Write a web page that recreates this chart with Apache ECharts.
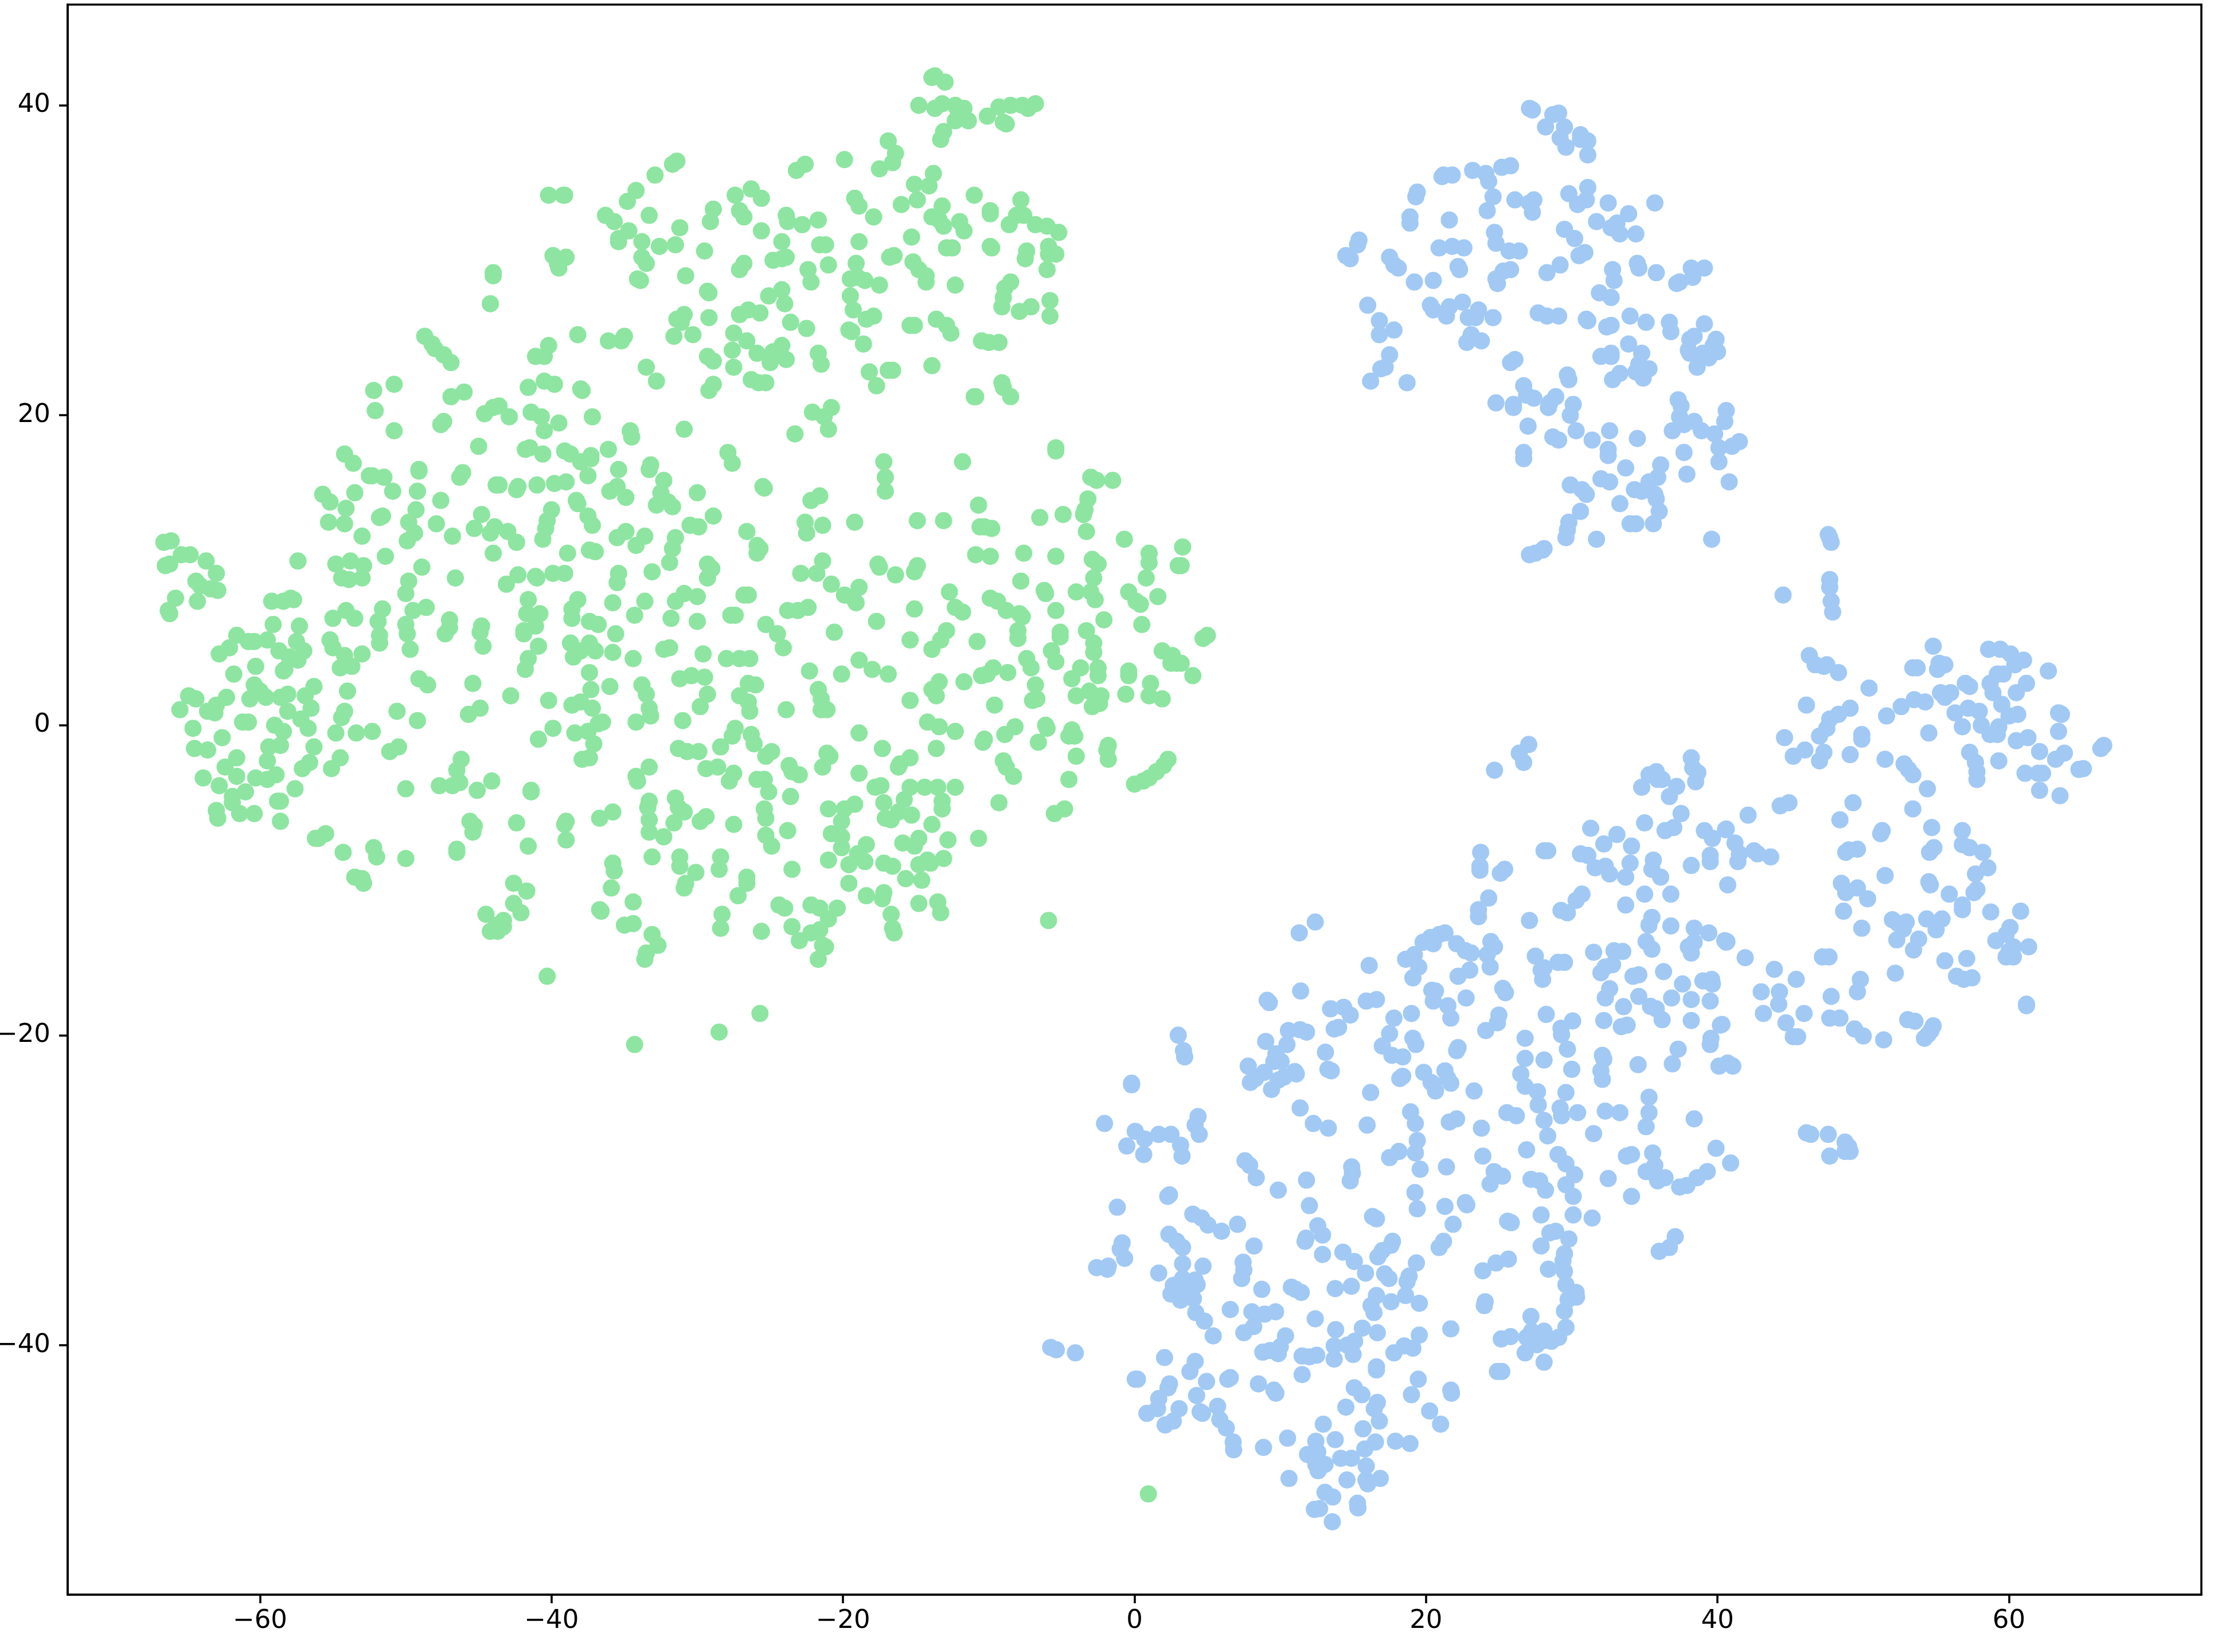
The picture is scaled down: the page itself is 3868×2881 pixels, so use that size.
<!DOCTYPE html>
<html>
<head>
<meta charset="utf-8">
<title>scatter</title>
<script src="https://cdn.jsdelivr.net/npm/echarts@6/dist/echarts.min.js"></script>
<style>
	html, body { margin: 0; padding: 0; background: #fff; }
	#chart { width: 3868px; height: 2881px; }
</style>
</head>
<body>
<div id="chart"></div>
<script>
	// tick labels
	var xTicks = [-60, -40, -20, 0, 20, 40, 60];
	var yTicks = [-40, -20, 0, 20, 40];

	// green cluster, left half, top part
	var greenTopLeft = [
		[-40.2,34.2],[-39.1,34.2],[-39.2,34.2],[-31.4,36.4],[-31.7,36.2],[-32.9,35.5],[-34.2,34.5],[-34.8,33.8],[-36.3,32.9],[-35.7,32.5],
		[-33.3,32.9],[-28.9,33.3],[-29.1,32.5],[-31.2,32.1],[-34.7,31.9],[-35.4,31.4],[-35.4,31.2],[-33.8,31.2],[-32.6,30.9],[-31.5,31.0],
		[-29.5,30.6],[-39.9,30.3],[-39.0,30.2],[-39.6,29.8],[-39.5,29.5],[-33.8,30.2],[-33.5,29.8],[-44.0,29.2],[-44.0,29.0],[-30.8,29.0],
		[-34.1,28.8],[-33.9,28.7],[-29.3,28.0],[-29.2,27.9],[-44.2,27.2],[-30.9,26.5],[-31.4,26.2],[-31.1,26.0],[-29.2,26.3],[-31.6,25.1],
		[-30.3,25.2],[-38.2,25.2],[-35.0,25.1],[-36.1,24.8],[-35.2,24.8],[-48.7,25.1],[-48.2,24.6],[-48.0,24.3],[-47.4,23.9],[-46.9,23.4],
		[-40.2,24.5],[-40.5,23.8],[-41.1,23.8],[-29.3,23.8],[-28.9,23.5],[-33.5,23.1],[-32.8,22.2],[-50.8,22.0],[-52.2,21.6],[-40.5,22.2],
		[-39.8,22.0],[-41.6,21.8],[-38.0,21.7],[-37.9,21.6],[-29.2,21.6],[-28.9,22.0],[-46.0,21.5],[-46.9,21.2],[-52.1,20.3],[-43.6,20.6],
		[-44.0,20.5],[-44.6,20.1],[-42.9,19.9],[-41.4,20.2],[-40.7,19.9],[-37.2,19.9],[-39.5,19.5],[-40.5,19.0],[-47.4,19.6],[-47.6,19.4],
		[-30.9,19.1],[-50.8,19.0],[-34.6,19.0],[-34.5,18.6],[-45.0,18.0],[-41.5,17.9],[-41.8,17.8],[-40.6,17.5],[-39.1,17.7],[-38.7,17.5],
		[-38.0,17.0],[-37.3,17.4],[-37.3,17.2],[-36.1,17.8],[-54.2,17.5],[-53.6,16.9],[-33.2,16.8],[-33.3,16.5],[-35.4,16.5],[-49.1,16.5],
		[-49.1,16.4],[-52.5,16.1],[-52.3,16.1],[-51.5,16.0],[-46.1,16.3],[-46.3,16.0],[-37.5,16.1],[-32.3,15.8],[-43.8,15.5],[-43.6,15.5],
		[-42.3,15.4],[-42.4,15.2],[-41.0,15.5],[-39.8,15.6],[-39.0,15.7],[-50.9,15.1],[-49.2,15.1],[-30.0,15.0],[-35.5,15.4],[-36.0,15.1],
		[-34.9,14.7],[-32.5,15.0],[-53.5,15.0],[-55.7,14.9],[-55.2,14.4],[-38.3,14.5],[-38.2,14.3],[-47.6,14.5],[-32.0,14.4],[-31.7,14.1],
		[-32.8,14.2],[-54.1,14.0],[-49.3,13.9],[-40.0,13.9],[-44.8,13.6],[-51.6,13.5],[-51.8,13.4],[-37.5,13.5],[-28.9,13.5],[-55.3,13.1],
		[-54.2,13.0],[-49.8,13.1],[-47.9,13.0],[-40.3,13.2],[-40.4,12.7],[-43.9,12.8],[-45.3,12.7],[-44.2,12.4],[-43.0,12.5],[-49.4,12.4],
		[-37.2,12.9],[-30.5,12.9],[-29.9,12.8],[-34.9,12.5],[-46.8,12.2],[-53.0,12.2],[-33.6,12.2],[-35.5,12.1],[-31.5,12.1],[-66.6,11.8],
		[-66.1,11.9],[-40.6,12.0],[-49.9,11.9],[-42.4,11.8],[-34.2,11.6],[-31.7,11.4],[-64.8,11.0],[-65.4,11.0],[-44.0,11.1],[-38.9,11.1],
		[-37.4,11.3],[-37.0,11.2],[-63.7,10.6],[-51.4,10.9],[-29.3,10.4],[-29.0,10.1],[-53.8,10.6],[-52.9,10.3],[-54.8,10.4],[-57.4,10.6],
		[-31.9,10.5],[-66.2,10.4],[-66.5,10.3],[-63.0,9.8],[-48.9,10.2],[-33.1,9.9],[-35.4,9.8],[-39.9,9.8],[-39.1,9.8],[-42.3,9.7],
		[-41.1,9.6],[-41.0,9.5],[-29.3,9.5],[-64.4,9.3],[-46.6,9.5],[-54.4,9.5],[-53.9,9.4],[-53.0,9.5],[-35.5,9.2],[-49.8,9.3],
		[-43.1,9.1],[-64.1,9.0],[-63.4,8.8],[-62.9,8.7],[-50.0,8.5],[-30.9,8.5],[-30.0,8.3],[-31.5,8.0],[-41.6,8.1],[-38.2,8.1],
		[-35.8,7.9],[-33.6,8.0],[-57.9,8.2],[-57.7,8.1],[-58.4,8.0],[-59.2,8.0],[-65.8,8.2],[-64.3,8.0],[-48.6,7.6],[-49.5,7.4],
		[-51.6,7.5],[-38.6,7.5],[-66.3,7.4],[-66.2,7.2],[-54.1,7.4],[-55.0,6.9],[-53.5,6.9],[-40.8,7.2],[-41.7,7.2],[-38.6,6.9],
		[-34.3,7.1],[-31.8,6.9],[-37.4,6.7],[-36.8,6.5],[-30.0,6.7],[-51.9,6.7],[-50.0,6.5],[-47.0,6.8],[-59.1,6.5],[-57.3,6.4],
		[-44.8,6.4],[-41.1,6.4],[-47.0,6.3],[-41.9,6.1]
	];

	// green cluster, left half, bottom part
	var greenBottomLeft = [
		[-61.6,5.8],[-60.8,5.4],[-60.4,5.4],[-59.5,5.5],[-62.1,5.0],[-62.8,4.6],[-57.5,5.4],[-55.2,5.5],[-55.0,5.0],[-51.8,5.8],
		[-51.8,5.3],[-49.9,5.9],[-49.7,4.9],[-47.3,5.9],[-44.9,6.0],[-44.7,5.1],[-41.9,5.9],[-40.9,5.1],[-38.7,5.3],[-37.4,5.3],
		[-37.0,4.8],[-38.0,4.8],[-38.5,4.4],[-35.6,5.9],[-35.8,4.7],[-32.3,4.9],[-31.9,5.0],[-29.6,4.6],[-34.4,4.3],[-41.6,4.3],
		[-41.8,3.6],[-58.7,4.8],[-58.0,4.4],[-57.4,4.2],[-57.0,4.8],[-54.2,4.5],[-53.0,4.6],[-53.7,3.8],[-54.5,3.7],[-60.3,3.8],
		[-58.3,3.6],[-58.4,3.5],[-61.8,3.3],[-37.4,3.4],[-49.1,3.0],[-48.5,2.6],[-45.4,2.7],[-60.4,2.6],[-56.3,2.5],[-36.0,2.5],
		[-33.8,2.6],[-33.5,2.0],[-31.2,3.0],[-30.4,3.2],[-29.5,3.1],[-37.3,2.3],[-54.0,2.2],[-29.3,2.0],[-42.8,1.9],[-64.9,1.9],
		[-64.4,1.7],[-62.3,1.8],[-60.0,2.2],[-58.1,2.0],[-58.6,1.8],[-56.9,1.9],[-60.7,1.7],[-59.6,1.8],[-40.2,1.6],[-38.6,1.3],
		[-38.0,1.5],[-37.2,1.1],[-29.8,1.2],[-33.3,1.1],[-44.9,1.1],[-63.0,1.3],[-63.6,0.9],[-63.1,0.8],[-65.5,1.0],[-56.5,1.1],
		[-58.1,0.9],[-54.2,0.9],[-54.4,0.5],[-50.6,0.9],[-45.7,0.7],[-33.2,0.6],[-57.2,0.4],[-49.2,0.3],[-36.5,0.2],[-36.8,0.1],
		[-34.2,0.2],[-31.0,0.3],[-61.2,0.2],[-60.8,0.2],[-59.0,0.0],[-56.7,-0.2],[-64.6,-0.2],[-39.9,-0.2],[-58.4,-0.4],[-52.3,-0.4],
		[-37.5,-0.4],[-53.4,-0.5],[-54.8,-0.5],[-38.4,-0.5],[-62.6,-0.8],[-40.9,-0.9],[-37.1,-1.2],[-56.3,-1.4],[-58.6,-1.3],[-59.4,-1.4],
		[-50.5,-1.4],[-31.3,-1.5],[-30.7,-1.7],[-29.9,-1.7],[-64.5,-1.5],[-63.6,-1.6],[-51.1,-1.7],[-61.6,-2.1],[-59.5,-2.3],[-54.5,-2.1],
		[-46.2,-2.2],[-37.4,-2.1],[-37.9,-2.2],[-56.6,-2.4],[-57.1,-2.8],[-62.4,-2.7],[-55.1,-2.8],[-46.5,-2.9],[-33.3,-2.7],[-29.4,-2.8],
		[-63.9,-3.4],[-61.6,-3.3],[-60.3,-3.4],[-59.5,-3.5],[-58.9,-3.2],[-34.2,-3.3],[-34.1,-3.6],[-47.7,-3.9],[-46.8,-3.9],[-46.3,-3.7],
		[-44.1,-3.6],[-62.8,-3.9],[-57.6,-4.1],[-50.0,-4.1],[-45.1,-4.2],[-41.4,-4.2],[-41.4,-4.3],[-61.0,-4.3],[-61.9,-4.6],[-61.9,-5.0],
		[-58.8,-4.9],[-58.6,-4.9],[-33.3,-4.9],[-33.4,-5.3],[-31.5,-4.7],[-31.3,-5.3],[-30.9,-5.6],[-63.0,-5.5],[-62.9,-6.0],[-61.4,-5.7],
		[-60.4,-5.7],[-45.6,-6.2],[-45.4,-6.9],[-45.3,-6.5],[-58.6,-6.2],[-42.4,-6.3],[-39.0,-6.2],[-39.1,-6.4],[-36.7,-6.0],[-35.8,-5.6],
		[-33.3,-6.1],[-29.4,-5.9],[-29.8,-6.2],[-31.6,-6.3],[-33.3,-6.9],[-32.3,-7.2],[-39.0,-7.4],[-41.6,-7.8],[-55.5,-7.0],[-56.0,-7.3],
		[-56.2,-7.3],[-54.3,-8.2],[-52.2,-7.9],[-52.0,-8.5],[-50.0,-8.6],[-46.5,-8.0],[-46.5,-8.2],[-33.1,-8.5],[-31.2,-8.5],[-31.2,-9.1],
		[-35.8,-8.9],[-35.7,-9.4],[-30.1,-9.5],[-53.5,-9.8],[-53.0,-9.9],[-52.9,-10.2],[-42.6,-10.2],[-41.7,-10.7],[-30.8,-10.2],[-30.9,-10.5],
		[-35.9,-10.5],[-34.4,-11.4],[-42.6,-11.5],[-42.1,-12.1],[-36.7,-11.9],[-36.6,-12.0],[-44.5,-12.2],[-43.3,-12.6],[-43.3,-13.0],[-43.8,-12.9],
		[-43.7,-13.3],[-44.2,-13.3],[-35.0,-12.9],[-34.4,-12.8],[-33.1,-13.5],[-32.7,-14.2],[-33.5,-14.7],[-33.6,-15.1],[-40.3,-16.2],[-34.3,-20.6]
	];

	// green cluster, right half, top part
	var greenTopRight = [
		[-13.7,41.9],[-13.9,41.8],[-13.0,41.5],[-14.8,40.0],[-13.7,39.8],[-13.2,40.1],[-12.3,40.0],[-11.7,39.8],[-12.1,39.6],[-12.3,39.0],
		[-11.4,39.0],[-10.1,39.3],[-9.3,39.9],[-8.5,40.0],[-7.7,40.0],[-7.3,39.8],[-6.8,40.1],[-8.8,38.8],[-9.0,38.9],[-13.1,38.3],
		[-13.3,37.8],[-16.9,37.7],[-16.4,36.9],[-16.6,36.3],[-17.5,35.9],[-19.9,36.5],[-22.6,36.2],[-23.2,35.8],[-13.8,35.6],[-15.1,34.9],
		[-14.1,34.8],[-26.3,34.6],[-27.4,34.2],[-25.6,34.0],[-19.2,34.0],[-18.9,33.5],[-14.9,33.9],[-16.0,33.6],[-11.0,34.2],[-13.2,33.5],
		[-7.8,33.9],[-9.9,33.2],[-9.9,33.0],[-27.1,33.2],[-26.8,32.8],[-23.9,32.9],[-23.8,32.5],[-21.7,32.6],[-22.8,32.3],[-17.9,32.8],
		[-13.9,32.8],[-13.4,32.6],[-13.1,32.2],[-12.0,32.5],[-11.7,31.9],[-8.1,32.9],[-7.6,32.9],[-8.6,32.3],[-6.8,32.3],[-6.0,32.2],
		[-5.2,31.8],[-25.6,31.9],[-24.2,31.2],[-18.9,31.2],[-15.3,31.5],[-21.6,31.0],[-21.2,31.0],[-23.9,30.2],[-24.2,30.1],[-24.8,30.0],
		[-26.8,29.8],[-27.1,29.4],[-16.5,30.3],[-16.8,30.2],[-12.9,30.8],[-12.5,30.8],[-9.9,30.9],[-9.8,30.8],[-7.4,30.6],[-7.5,30.1],
		[-5.9,30.9],[-5.9,30.4],[-5.4,30.4],[-22.4,29.4],[-21.0,29.7],[-19.1,29.8],[-15.2,29.9],[-14.8,29.4],[-14.3,29.0],[-14.3,28.6],
		[-6.0,29.4],[-19.5,28.8],[-19.0,28.9],[-18.5,28.7],[-17.5,28.4],[-22.2,28.6],[-24.2,28.1],[-25.1,27.7],[-12.3,28.4],[-8.5,28.6],
		[-8.9,28.2],[-9.0,27.6],[-9.1,27.0],[-19.5,27.7],[-24.0,27.2],[-5.8,27.4],[-7.1,27.0],[-7.9,26.7],[-5.8,26.4],[-26.5,26.8],
		[-25.7,26.6],[-27.1,26.5],[-19.3,26.8],[-17.9,26.4],[-18.4,26.2],[-13.6,26.2],[-12.9,25.8],[-12.6,25.3],[-23.6,26.0],[-22.5,25.6],
		[-15.4,25.8],[-15.1,25.8],[-19.6,25.5],[-19.4,25.4],[-27.5,25.3],[-26.6,24.8],[-10.5,24.8],[-10.0,24.7],[-9.3,24.7],[-24.2,24.5],
		[-24.8,24.1],[-25.9,24.0],[-27.6,24.2],[-18.6,24.6],[-21.7,24.0],[-21.5,23.3],[-23.9,23.6],[-25.0,23.4],[-27.5,23.1],[-13.9,23.2],
		[-18.2,22.8],[-16.6,22.9],[-16.9,22.9],[-26.3,22.3],[-25.8,22.1],[-25.3,22.1],[-9.1,22.1],[-9.0,21.8],[-17.7,21.9],[-8.5,21.2],
		[-11.0,21.2],[-10.9,21.2],[-20.8,20.5],[-22.1,20.2],[-21.3,19.9],[-21.0,19.1],[-23.3,18.8],[-5.4,17.9],[-5.4,17.7],[-27.9,17.6],
		[-27.6,16.9],[-11.8,17.0],[-17.2,17.0],[-17.1,16.0],[-17.1,15.1],[-25.5,15.4],[-25.4,15.3],[-3.0,16.0],[-2.6,15.8],[-1.5,15.8],
		[-21.6,14.8],[-22.2,14.5],[-3.2,14.6],[-3.4,13.9],[-3.5,13.6],[-10.7,14.2],[-4.9,13.6],[-6.5,13.4],[-14.9,13.2],[-13.1,13.2],
		[-22.6,13.1],[-22.5,12.4],[-21.4,12.9],[-19.2,13.1],[-10.6,12.8],[-10.3,12.8],[-9.8,12.7],[-26.6,12.5],[-3.3,12.5],[-0.7,12.0],
		[3.3,11.5],[-25.9,11.6],[-25.7,11.4],[-25.9,11.1],[-10.9,11.0],[-9.9,10.9],[-7.6,11.1],[-5.4,10.9],[-2.9,10.7],[-2.5,10.4],
		[1.0,11.1],[1.0,10.5],[3.2,10.3],[3.0,10.3],[-21.4,10.6],[-17.6,10.4],[-17.5,10.2],[-14.9,10.3],[-15.1,9.9],[-22.9,9.8],
		[-21.8,9.8],[-16.4,9.7],[0.8,9.5],[-2.8,9.5],[-20.8,9.1],[-7.8,9.3],[-18.9,8.9],[-19.9,8.4],[-19.3,8.2],[-19.1,7.9],
		[-26.8,8.4],[-26.5,8.4],[-12.7,8.6],[-9.9,8.2],[-9.4,8.0],[-8.8,7.4],[-6.2,8.7],[-6.1,8.5],[-4.0,8.6],[-3.0,8.6],
		[-2.7,8.1],[-0.4,8.6],[0.1,8.0],[0.4,7.8],[1.6,8.3],[-12.3,7.6],[-11.8,7.3],[-15.1,7.5],[-5.4,7.4],[-7.9,7.2],
		[-7.7,7.0],[-23.8,7.4],[-23.1,7.4],[-22.4,7.6],[-27.7,7.1],[-27.4,7.1],[-25.3,6.5],[-17.7,6.7],[-2.1,6.8],[0.5,6.5],
		[-20.6,6.0],[-12.9,6.1],[-8.0,6.1],[-3.3,6.1],[-5.1,6.0],[5.0,5.8],[4.7,5.6],[-24.5,5.9]
	];

	// green cluster, right half, bottom part, and the one green point among the blue ones
	var greenBottomRight = [
		[-24.1,5.0],[-15.4,5.5],[-13.9,4.9],[-13.3,5.5],[-10.8,5.4],[-8.0,5.6],[-5.1,5.7],[-2.8,5.3],[-2.8,4.7],[-5.7,4.8],
		[-5.4,4.1],[-7.4,4.3],[-7.1,3.7],[1.9,4.8],[2.6,4.5],[2.9,4.0],[2.5,4.0],[3.2,4.0],[4.0,3.2],[-28.0,4.3],
		[-27.1,4.3],[-26.4,4.3],[-18.9,4.2],[-18.0,3.6],[-22.3,3.5],[-20.1,3.3],[-16.9,3.3],[-9.7,3.7],[-10.5,3.2],[-10.1,3.3],
		[-8.7,3.4],[-3.7,3.7],[-2.5,3.7],[-4.3,3.0],[-2.5,3.2],[-0.4,3.5],[-0.4,3.2],[-26.5,2.7],[-26.0,2.6],[-13.4,2.8],
		[-11.7,2.8],[-6.8,2.6],[1.1,2.7],[-13.9,2.3],[-13.6,1.9],[-27.1,1.9],[-26.5,1.5],[-21.7,2.3],[-21.5,1.7],[-3.1,2.2],
		[-2.3,1.9],[-4.0,1.9],[-0.6,2.0],[-9.6,1.3],[-6.7,1.7],[-7.0,1.6],[1.0,1.9],[1.9,1.7],[-15.4,1.6],[-2.4,1.4],
		[-2.9,1.2],[-26.4,0.9],[-23.9,1.0],[-21.5,1.0],[-21.1,1.0],[-14.2,0.2],[-13.4,-0.1],[-12.3,-0.4],[-8.2,-0.1],[-8.9,-0.6],
		[-6.1,0.0],[-6.0,-0.2],[-4.3,-0.3],[-4.5,-0.7],[-4.1,-0.7],[-27.4,-0.2],[-27.6,-0.7],[-26.3,-0.6],[-26.1,-1.2],[-18.9,-0.5],
		[-10.3,-0.9],[-10.4,-1.1],[-6.6,-1.1],[-28.4,-1.4],[-24.9,-1.7],[-25.3,-2.0],[-21.1,-1.8],[-20.9,-2.0],[-17.3,-1.5],[-13.6,-1.5],
		[-1.8,-1.3],[-1.9,-1.6],[-1.8,-2.2],[-4.0,-2.0],[-15.4,-2.1],[-16.1,-2.5],[-16.2,-2.7],[2.3,-2.2],[2.0,-2.6],[1.5,-3.0],
		[1.0,-3.4],[0.6,-3.6],[0.0,-3.8],[-9.0,-2.3],[-8.8,-2.7],[-8.3,-3.3],[-21.4,-2.7],[-23.7,-2.6],[-23.5,-3.0],[-23.0,-3.2],
		[-27.5,-3.1],[-27.8,-3.6],[-28.6,-2.7],[-18.9,-3.1],[-25.9,-3.5],[-25.4,-3.5],[-25.1,-4.3],[-23.6,-4.6],[-4.5,-3.5],[-17.8,-4.0],
		[-17.4,-3.9],[-15.4,-4.0],[-14.4,-4.0],[-13.5,-4.0],[-12.3,-4.0],[-15.8,-4.8],[-17.2,-5.0],[-13.2,-4.9],[-13.2,-5.4],[-9.3,-5.0],
		[-4.8,-5.4],[-5.5,-5.7],[-25.4,-5.4],[-25.3,-6.0],[-21.0,-5.4],[-19.9,-5.4],[-19.2,-5.1],[-16.2,-5.6],[-17.1,-6.0],[-16.7,-6.1],
		[-15.3,-5.8],[-20.1,-6.2],[-27.5,-6.4],[-13.9,-6.4],[-23.8,-6.8],[-25.3,-7.1],[-24.9,-7.8],[-20.8,-7.0],[-20.1,-7.2],[-20.1,-7.9],
		[-14.8,-7.3],[-15.9,-7.6],[-15.1,-7.8],[-12.8,-7.4],[-10.7,-7.3],[-18.4,-7.7],[-28.4,-8.5],[-19.0,-8.3],[-21.0,-8.7],[-18.5,-8.8],
		[-19.6,-9.0],[-17.2,-8.9],[-16.6,-9.1],[-14.2,-8.7],[-13.1,-8.6],[-14.0,-8.9],[-14.8,-9.0],[-23.5,-9.3],[-28.5,-9.3],[-26.6,-9.8],
		[-26.6,-10.2],[-15.7,-9.9],[-14.6,-10.0],[-19.6,-10.2],[-27.2,-11.0],[-17.2,-10.8],[-18.4,-11.0],[-17.3,-11.2],[-24.4,-11.6],[-24.0,-11.8],
		[-22.2,-11.6],[-21.6,-11.8],[-20.4,-11.8],[-21.0,-12.5],[-14.8,-11.5],[-13.5,-11.4],[-13.3,-12.1],[-16.7,-12.2],[-5.9,-12.6],[-28.3,-12.2],
		[-28.4,-13.1],[-25.6,-13.3],[-23.5,-13.0],[-22.2,-13.4],[-21.6,-13.2],[-16.5,-13.4],[-16.6,-13.1],[-23.0,-13.9],[-21.2,-14.3],[-21.4,-14.2],
		[-21.7,-15.1],[-25.7,-18.6],[-28.5,-19.8],[0.95,-49.6]
	];

	// blue cluster at the top
	var blueTop = [
		[27.1,39.8],[27.3,39.7],[28.7,39.4],[29.1,39.5],[28.2,38.6],[29.5,38.6],[29.2,37.9],[29.6,37.3],[30.6,38.1],[30.6,37.8],
		[31.1,37.7],[31.1,36.8],[21.1,35.4],[21.2,35.5],[21.8,35.5],[23.2,35.8],[24.1,35.6],[24.3,35.1],[25.2,36.0],[25.8,36.1],
		[19.4,34.4],[19.3,34.1],[24.6,34.1],[26.1,33.9],[27.4,33.9],[27.1,33.7],[29.8,34.3],[31.1,34.7],[31.0,33.9],[30.4,33.6],
		[32.5,33.7],[35.7,33.7],[33.9,33.0],[24.2,33.2],[27.3,33.1],[18.9,32.8],[18.9,32.4],[21.6,32.6],[31.7,32.5],[33.1,32.4],
		[32.7,32.1],[33.3,31.7],[34.4,31.7],[24.7,31.8],[24.8,31.1],[29.5,32.0],[30.2,31.4],[15.4,31.3],[15.3,31.0],[25.7,30.6],
		[26.4,30.6],[20.9,30.8],[21.8,30.9],[22.6,30.8],[30.9,30.5],[30.5,30.3],[14.5,30.3],[14.8,30.1],[17.5,30.2],[17.8,29.7],
		[18.1,29.5],[34.5,29.8],[34.6,29.5],[35.8,29.2],[38.2,29.5],[39.1,29.5],[32.8,29.4],[32.9,28.7],[29.2,29.7],[28.3,29.2],
		[22.2,29.6],[22.3,29.4],[25.8,29.4],[25.3,29.3],[24.8,28.8],[24.9,28.5],[19.2,28.6],[20.5,28.7],[38.3,28.9],[37.4,28.6],
		[37.2,28.5],[31.9,27.9],[32.7,27.6],[16.0,27.1],[20.3,27.1],[20.5,26.8],[21.6,27.0],[21.4,26.4],[22.5,27.3],[23.6,26.8],
		[23.4,26.3],[22.9,26.3],[24.6,26.3],[27.7,26.6],[28.3,26.4],[29.1,26.4],[31.0,26.2],[31.1,26.1],[34.0,26.4],[35.1,26.0],
		[36.7,26.0],[36.8,25.4],[39.1,25.9],[32.7,25.8],[32.4,25.7],[16.8,26.1],[17.8,25.5],[16.8,25.2],[23.1,25.2],[22.8,24.7],
		[23.8,24.8],[38.4,25.1],[38.1,24.9],[39.9,24.9],[38.0,24.2],[38.1,24.0],[40.0,24.1],[39.7,24.5],[39.0,24.0],[39.4,23.7],
		[38.6,23.1],[33.9,24.6],[34.8,24.0],[32.0,23.8],[32.7,24.0],[32.7,23.8],[34.6,23.3],[35.3,23.0],[34.4,22.8],[34.7,22.8],
		[34.9,22.4],[17.5,23.9],[16.9,23.0],[17.2,23.1],[16.2,22.2],[18.7,22.1],[26.1,23.6],[25.8,23.4],[33.3,22.7],[32.8,22.3],
		[29.7,22.6],[29.8,22.3],[26.7,21.9],[26.9,21.3],[27.4,21.1],[28.9,21.2],[28.4,20.5],[28.5,20.8],[30.1,20.7],[29.9,20.0],
		[24.8,20.8],[26.0,20.5],[26.0,20.7],[37.3,21.0],[37.5,20.6],[37.4,19.9],[40.6,20.3],[40.5,19.6],[38.4,19.6],[37.7,19.4],
		[38.9,19.0],[39.8,18.8],[36.9,19.0],[27.0,19.3],[28.7,18.6],[29.1,18.4],[30.3,19.0],[31.4,18.4],[32.6,19.0],[34.5,18.5],
		[41.5,18.3],[41.0,18.0],[40.1,17.9],[37.7,17.6],[32.5,17.8],[32.5,17.4],[26.7,17.6],[26.7,17.2],[40.1,17.0],[36.1,16.8],
		[33.7,16.6],[37.9,16.2],[35.9,16.0],[35.3,15.7],[40.8,15.7],[32.0,15.9],[32.6,15.7],[29.9,15.5],[30.7,15.2],[31.0,14.9],
		[34.3,15.2],[34.8,15.1],[35.7,14.9],[35.8,14.6],[36.0,13.8],[33.3,14.3],[30.6,13.8],[29.8,13.1],[34.0,13.0],[34.4,13.0],
		[35.6,13.0],[29.7,12.6],[29.6,12.1],[31.7,12.0],[39.6,12.0],[28.1,11.4],[28.0,11.3],[27.5,11.1],[27.1,11.0]
	];

	// blue points on the right side
	var blueRight = [
		[47.6,12.3],[47.7,12.1],[47.8,11.8],[47.7,9.4],[47.7,8.9],[47.8,8.0],[47.9,7.3],[44.5,8.4],[54.8,5.1],[55.2,4.0],
		[55.6,3.9],[55.1,3.6],[53.4,3.7],[53.7,3.7],[58.6,4.9],[59.4,4.9],[60.1,4.6],[61.0,4.2],[60.4,3.9],[62.7,3.5],
		[59.6,3.3],[59.2,3.3],[46.3,4.5],[46.7,3.9],[47.3,3.8],[47.5,3.9],[48.3,3.4],[50.4,2.4],[57.0,2.7],[57.3,2.5],
		[58.7,2.7],[58.9,2.1],[61.2,2.7],[60.5,2.1],[55.3,2.1],[56.0,2.1],[55.6,1.8],[53.5,1.65],[54.25,1.5],[52.6,1.2],
		[51.6,0.6],[46.1,1.3],[49.1,1.1],[48.3,0.7],[47.7,0.4],[59.5,1.35],[57.2,1.1],[57.96,0.9],[56.3,0.8],[60.0,0.6],
		[60.6,0.7],[63.4,0.8],[63.6,0.7],[47.5,-0.2],[47.0,-0.7],[44.6,-0.8],[58.1,0.0],[56.8,-0.1],[59.3,-0.1],[58.7,-0.6],
		[59.2,-0.6],[54.5,-0.5],[63.4,-0.4],[49.9,-0.6],[49.9,-0.9],[60.5,-1.0],[61.3,-0.8],[66.5,-1.3],[66.3,-1.5],[62.1,-1.7],
		[46.0,-1.6],[45.2,-2.0],[47.3,-1.75],[47.0,-2.3],[49.1,-1.9],[57.3,-1.75],[57.7,-2.4],[59.3,-2.3],[63.8,-1.8],[63.2,-2.2],
		[51.5,-2.2],[52.8,-2.5],[53.1,-2.85],[53.4,-3.2],[65.1,-2.8],[64.8,-2.85],[61.1,-3.1],[62.0,-3.1],[62.3,-3.1],[57.8,-3.0],
		[57.8,-3.5],[54.4,-4.1],[62.1,-4.2],[63.5,-4.55],[53.4,-5.4],[49.3,-5.0],[44.9,-5.0],[44.3,-5.2],[42.1,-5.8],[48.4,-6.1],
		[40.6,-6.7],[54.7,-6.6],[56.8,-6.8],[51.3,-6.8],[51.2,-7.0],[41.2,-7.6],[56.8,-7.7],[57.3,-7.9],[58.2,-8.2],[54.85,-7.9],
		[54.55,-8.2],[48.8,-8.2],[49.6,-8.0],[49.0,-8.05],[42.5,-8.1],[42.75,-8.3],[43.65,-8.5],[41.5,-8.3],[41.4,-8.8],[58.55,-9.2],
		[57.7,-9.6],[40.7,-10.3],[51.5,-9.7],[48.5,-10.2],[49.6,-10.5],[48.8,-10.8],[50.3,-11.2],[54.5,-10.1],[54.6,-10.3],[57.8,-10.6],
		[57.6,-10.8],[55.9,-10.9],[56.8,-11.6],[56.8,-11.9],[48.65,-12.0],[58.75,-12.05],[60.8,-12.0],[49.9,-13.1],[52.0,-12.55],[52.4,-12.8],
		[52.95,-12.7],[52.75,-13.15],[54.35,-12.5],[55.4,-12.5],[55.0,-13.2],[60.07,-13.05],[59.8,-13.5],[59.1,-13.9],[52.3,-13.85],[53.8,-13.8],
		[53.45,-14.5],[40.6,-14.0],[60.3,-14.3],[61.35,-14.3],[59.8,-14.95],[60.3,-14.95],[60.0,-14.6],[41.9,-15.0],[47.2,-14.95],[47.65,-14.95],
		[55.6,-15.2],[57.1,-15.05],[43.9,-15.75],[52.2,-16.0],[56.4,-16.2],[56.9,-16.4],[57.46,-16.3],[45.4,-16.4],[49.8,-16.4],[49.6,-17.2],
		[43.0,-17.2],[44.25,-17.2],[44.2,-18.0],[47.8,-17.5],[43.15,-18.6],[45.94,-18.6],[44.7,-19.2],[47.7,-18.9],[48.4,-18.9],[53.05,-19.0],
		[53.55,-19.1],[54.8,-19.4],[61.2,-18.0],[61.2,-18.1],[49.4,-19.6],[50.0,-20.05],[51.4,-20.3],[54.65,-19.7],[54.45,-19.95],[54.2,-20.2],
		[45.2,-20.1],[45.5,-20.1],[40.3,-19.3]
	];

	// blue cluster at the bottom, upper right part
	var blueMiddle = [
		[27.05,-1.24],[26.4,-1.8],[26.7,-2.4],[24.7,-2.9],[38.2,-2.1],[38.3,-2.75],[38.65,-3.06],[38.5,-3.65],[35.8,-3.0],[35.3,-3.2],
		[36.2,-3.5],[35.9,-3.5],[34.8,-4.0],[37.2,-3.95],[36.7,-4.6],[37.5,-5.7],[35.0,-6.3],[31.3,-6.65],[33.1,-7.05],[37.0,-6.6],
		[36.4,-6.8],[39.1,-6.8],[39.65,-7.3],[40.55,-6.74],[32.2,-7.66],[34.1,-7.8],[23.75,-8.2],[23.7,-9.36],[23.7,-9.1],[25.4,-9.3],
		[25.1,-9.55],[28.1,-8.1],[28.35,-8.1],[30.6,-8.3],[31.1,-8.4],[34.0,-8.9],[35.6,-8.7],[35.5,-9.3],[31.6,-9.2],[32.3,-9.1],
		[32.6,-9.6],[36.1,-9.8],[33.7,-9.8],[38.2,-9.05],[39.5,-8.4],[39.5,-8.8],[35.0,-10.9],[36.8,-10.9],[24.3,-11.15],[30.7,-10.9],
		[30.3,-11.3],[33.7,-11.6],[23.6,-11.9],[23.6,-12.35],[29.26,-11.95],[29.7,-12.1],[27.1,-12.6],[35.5,-12.4],[35.3,-12.9],[36.8,-12.95],
		[38.4,-13.1],[39.4,-13.4],[21.3,-13.4],[20.9,-13.5],[20.5,-14.1],[35.1,-13.96],[35.5,-14.45],[40.65,-13.96],[40.5,-13.9],[24.45,-13.96],
		[24.7,-14.3],[24.2,-14.8],[22.1,-14.1],[22.7,-14.55],[23.1,-14.7],[24.4,-15.6],[27.5,-14.9],[31.5,-14.65],[32.9,-14.55],[33.5,-14.6],
		[38.4,-14.0],[38.0,-14.3],[38.2,-14.7],[29.06,-15.3],[29.5,-15.3],[27.9,-15.8],[28.1,-15.65],[28.0,-16.4],[32.8,-15.45],[32.3,-15.6],
		[32.0,-15.97],[36.3,-15.9],[22.2,-16.2],[23.0,-15.8],[34.2,-16.2],[34.6,-16.1],[37.6,-16.7],[39.0,-16.5],[39.6,-16.4],[39.65,-16.7],
		[25.27,-16.98],[25.45,-17.26],[32.6,-17.0],[32.3,-17.6],[34.6,-17.5],[36.85,-17.6],[38.2,-17.7],[39.5,-17.8],[20.65,-17.15],[20.5,-17.8],
		[21.5,-18.1],[22.75,-17.6],[21.7,-18.9],[33.55,-18.16],[35.4,-18.14],[35.8,-18.3],[28.25,-18.66],[30.06,-19.08],[32.2,-19.05],[36.2,-19.0],
		[38.2,-19.05],[25.0,-18.7],[24.9,-19.2],[24.1,-19.7],[29.26,-19.55],[29.3,-19.97],[33.8,-19.35],[33.4,-19.45],[40.2,-19.35],[26.8,-20.2],
		[29.7,-20.9],[39.55,-20.2],[39.5,-20.6],[22.1,-21.0],[22.2,-20.8],[37.3,-20.9],[26.8,-21.5],[28.1,-21.6],[32.1,-21.3],[32.2,-21.55],
		[30.0,-22.2],[34.55,-21.9],[36.9,-21.85],[40.1,-22.0],[40.7,-21.8],[41.05,-22.0],[21.3,-22.3],[32.0,-22.3],[32.1,-22.85],[26.5,-22.5],
		[21.5,-22.8],[21.7,-23.1],[20.5,-23.15],[20.65,-23.6],[23.3,-23.6],[26.8,-23.3],[27.65,-23.65],[29.6,-23.7],[35.3,-24.0],[27.7,-24.5],
		[29.2,-24.7],[29.3,-25.2],[30.4,-25.0],[32.3,-24.9],[33.3,-25.0],[35.3,-25.0],[25.55,-25.0],[26.2,-25.2],[38.4,-25.4],[22.1,-25.4],
		[21.6,-25.6],[28.1,-25.5],[23.8,-26.0],[35.1,-25.9],[28.35,-26.5],[31.5,-26.35],[46.1,-26.3],[46.4,-26.4],[47.6,-26.4],[48.75,-26.9],
		[49.0,-27.2],[48.75,-27.5],[49.1,-27.5],[47.7,-27.8],[26.9,-27.4],[23.9,-27.8],[29.06,-27.7],[29.6,-28.3],[34.1,-27.7],[33.75,-27.8],
		[35.55,-27.6],[39.9,-27.3],[40.9,-28.25],[21.4,-28.5],[24.67,-28.8],[25.25,-29.1],[30.2,-29.0],[35.7,-28.4],[35.1,-28.8],[35.6,-28.9],
		[35.9,-29.4],[36.4,-29.2],[27.2,-29.3],[27.8,-29.4],[28.2,-30.0],[24.4,-29.6],[29.6,-29.65],[32.5,-29.25],[39.3,-28.8],[38.6,-29.2],
		[37.9,-29.7],[37.4,-29.8],[30.1,-30.4],[34.1,-30.4],[21.3,-31.05],[22.7,-30.8],[22.8,-30.95],[27.9,-31.6],[30.1,-31.6],[31.4,-31.8],
		[21.86,-32.2],[25.6,-32.0],[25.85,-32.1],[28.9,-32.65],[28.5,-32.75],[29.8,-33.15],[37.1,-33.0],[36.7,-33.7],[36.0,-33.95],[21.2,-33.3],
		[20.9,-33.7],[27.9,-33.6],[29.5,-34.1],[29.4,-34.55],[25.65,-34.45],[24.8,-34.7],[23.9,-35.2],[28.4,-35.1],[29.5,-35.25],[29.6,-36.1],
		[30.3,-36.6]
	];

	// blue cluster at the bottom, lower left part
	var blueBottom = [
		[11.3,-13.4],[12.4,-12.7],[16.1,-15.5],[18.6,-15.1],[19.8,-14.0],[20.3,-13.7],[19.2,-14.8],[19.5,-15.6],[11.4,-17.15],[9.1,-17.75],
		[9.25,-17.9],[19.1,-16.3],[13.45,-18.3],[14.35,-18.2],[14.8,-18.7],[15.9,-17.8],[16.6,-17.7],[20.4,-17.1],[17.8,-18.9],[19.0,-18.6],
		[10.56,-19.7],[11.36,-19.65],[11.8,-19.8],[13.7,-19.6],[14.0,-19.5],[3.0,-20.0],[17.5,-19.9],[9.0,-20.4],[10.46,-20.6],[19.1,-20.2],
		[19.3,-20.6],[17.0,-20.7],[3.36,-21.0],[3.44,-21.4],[13.1,-21.1],[9.7,-21.2],[9.56,-21.7],[10.06,-21.7],[17.66,-21.3],[18.4,-21.4],
		[7.8,-22.0],[13.27,-22.2],[13.5,-22.3],[8.9,-22.4],[11.0,-22.35],[11.1,-22.5],[10.26,-22.7],[9.86,-22.9],[19.84,-22.4],[18.4,-22.65],
		[18.2,-22.8],[8.3,-22.8],[7.95,-23.05],[-0.2,-23.2],[-0.2,-23.1],[9.4,-23.5],[20.35,-23.05],[16.2,-23.7],[11.36,-24.7],[18.94,-24.95],
		[19.27,-25.7],[4.36,-25.25],[4.16,-25.8],[4.44,-26.4],[-2.06,-25.7],[12.27,-25.7],[13.3,-26.0],[15.96,-25.8],[0.05,-26.2],[0.7,-26.7],
		[1.66,-26.4],[2.5,-26.4],[-0.53,-27.15],[0.63,-27.7],[3.16,-27.1],[3.26,-27.8],[19.4,-26.8],[19.27,-27.6],[18.14,-27.5],[17.5,-27.9],
		[7.58,-28.1],[7.9,-28.4],[8.35,-29.2],[14.9,-28.5],[14.95,-28.9],[14.8,-29.4],[19.6,-28.65],[11.8,-29.35],[9.86,-30.0],[19.24,-30.15],
		[19.4,-31.2],[2.4,-30.3],[2.28,-30.4],[-1.18,-31.1],[12.0,-31.0],[4.0,-31.55],[4.6,-31.8],[5.04,-32.25],[5.97,-32.65],[7.07,-32.2],
		[16.33,-31.7],[16.6,-31.85],[12.57,-32.3],[12.9,-32.9],[11.77,-33.1],[11.7,-33.3],[2.36,-32.85],[2.9,-33.3],[3.3,-33.7],[8.2,-33.6],
		[-0.85,-33.4],[-0.98,-33.8],[-0.68,-34.4],[-2.6,-35.0],[-1.8,-34.9],[-1.86,-35.1],[17.7,-33.3],[17.6,-33.55],[17.0,-33.9],[16.7,-34.3],
		[19.34,-34.7],[14.3,-34.0],[15.08,-34.6],[15.85,-35.35],[12.9,-34.15],[7.45,-34.65],[7.5,-35.15],[7.35,-35.7],[3.3,-34.75],[4.7,-34.9],
		[1.66,-35.35],[17.16,-35.4],[17.46,-35.7],[18.84,-35.55],[18.7,-35.9],[3.3,-35.7],[2.66,-36.15],[4.3,-36.1],[4.16,-35.8],[3.8,-36.4],
		[2.5,-36.7],[3.16,-37.1],[3.54,-36.6],[4.04,-37.0],[3.04,-36.6],[8.73,-36.4],[10.76,-36.26],[11.06,-36.4],[11.44,-36.6],[13.77,-36.35],
		[14.88,-36.2],[18.6,-36.8],[16.6,-36.8],[17.6,-37.2],[19.54,-37.3],[16.23,-37.45],[16.43,-37.9],[6.57,-37.7],[8.05,-37.85],[8.93,-38.0],
		[9.68,-37.85],[4.2,-37.9],[4.8,-38.45],[12.4,-38.3],[5.4,-39.4],[8.18,-38.8],[7.5,-39.2],[13.8,-39.0],[15.63,-38.9],[16.66,-39.2],
		[10.36,-39.4],[21.7,-38.95],[19.54,-39.35],[24.06,-37.2],[24.0,-37.45],[27.2,-38.15],[30.33,-36.9],[29.75,-37.05],[29.5,-37.8],[29.6,-38.85],
		[29.1,-39.5],[28.6,-39.75],[28.1,-39.1],[27.25,-39.1],[27.6,-39.45],[26.9,-39.5],[27.6,-39.97],[28.1,-39.7],[25.16,-39.6],[25.8,-39.45],
		[26.8,-40.5],[28.1,-41.1],[24.9,-41.7],[25.2,-41.7],[18.5,-40.05],[17.8,-40.5],[19.1,-40.2],[-5.75,-40.15],[-5.37,-40.3],[-4.06,-40.5],
		[2.06,-40.8],[4.16,-41.05],[3.8,-41.7],[8.8,-40.45],[9.3,-40.35],[9.86,-40.55],[10.0,-40.1],[11.5,-40.7],[12.0,-40.75],[12.5,-40.65],
		[13.7,-40.05],[13.7,-40.9],[14.6,-40.0],[15.1,-39.75],[15.0,-40.6],[16.6,-41.4],[16.6,-41.6],[11.5,-41.9],[19.47,-42.2],[0.05,-42.2],
		[0.2,-42.2],[2.4,-42.5],[2.3,-42.75],[4.94,-42.35],[6.57,-42.1],[6.4,-42.2],[8.5,-42.5],[9.56,-42.9],[9.7,-43.1],[15.08,-42.75],
		[15.6,-43.2],[19.0,-43.2],[21.7,-42.9],[21.75,-43.1],[4.26,-43.25],[1.66,-43.45],[1.58,-44.1],[3.06,-44.1],[0.85,-44.4],[14.5,-44.0],
		[16.66,-43.7],[16.45,-44.1],[5.7,-43.95],[4.5,-44.3],[4.66,-44.4],[20.25,-44.25],[16.8,-44.9],[21.0,-45.1],[5.85,-44.8],[6.3,-45.35],
		[2.1,-45.15],[2.66,-44.9],[12.95,-45.1],[15.68,-45.4],[6.77,-46.25],[6.8,-46.75],[10.5,-46.0],[8.85,-46.6],[12.44,-46.2],[13.77,-46.1],
		[16.53,-46.25],[17.9,-46.2],[18.9,-46.35],[15.8,-46.7],[12.57,-46.9],[11.87,-47.05],[12.3,-47.25],[14.15,-47.3],[14.88,-47.3],[13.07,-47.7],
		[12.44,-47.7],[12.6,-48.1],[15.9,-47.8],[16.86,-48.6],[14.58,-48.7],[15.88,-48.7],[16.0,-48.95],[10.6,-48.6],[13.07,-49.5],[13.6,-49.8],
		[15.3,-50.2],[15.33,-50.5],[12.7,-50.55],[12.34,-50.6],[13.57,-51.4]
	];

	var greenPoints = greenTopLeft.concat(greenBottomLeft, greenTopRight, greenBottomRight);
	var bluePoints = blueTop.concat(blueRight, blueMiddle, blueBottom);

	function tickText(v) {
		return String(v).replace('-', '\u2212');
	}

	var chart = echarts.init(document.getElementById('chart'));

	var option = {
		animation: false,
		backgroundColor: '#ffffff',
		grid: {
			show: true,
			left: 118,
			right: 29,
			top: 8,
			bottom: 100,
			outerBoundsMode: 'none',
			borderColor: '#000000',
			borderWidth: 3.6,
			backgroundColor: 'transparent'
		},
		xAxis: {
			type: 'value',
			min: -73.2,
			max: 73.2,
			splitLine: { show: false },
			axisLine: { show: true, onZero: false, lineStyle: { color: '#000000', width: 3.6 } },
			axisTick: { show: true, length: 15, customValues: xTicks, lineStyle: { color: '#000000', width: 3.6 } },
			axisLabel: { customValues: xTicks, formatter: tickText, color: '#000000', fontFamily: 'DejaVu Sans', fontSize: 45, margin: 24 }
		},
		yAxis: {
			type: 'value',
			min: -56.1,
			max: 46.5,
			splitLine: { show: false },
			axisLine: { show: true, onZero: false, lineStyle: { color: '#000000', width: 3.6 } },
			axisTick: { show: true, length: 15, customValues: yTicks, lineStyle: { color: '#000000', width: 3.6 } },
			axisLabel: { customValues: yTicks, formatter: tickText, color: '#000000', fontFamily: 'DejaVu Sans', fontSize: 45, margin: 30, padding: [8, 0, 0, 0] }
		},
		series: [{
			name: 'green',
			type: 'scatter',
			symbolSize: 30,
			itemStyle: { color: '#8de5a1', opacity: 1 },
			data: greenPoints
		}, {
			name: 'blue',
			type: 'scatter',
			symbolSize: 30,
			itemStyle: { color: '#a1c9f4', opacity: 1 },
			data: bluePoints
		}]
	};

	chart.setOption(option);
</script>
</body>
</html>
